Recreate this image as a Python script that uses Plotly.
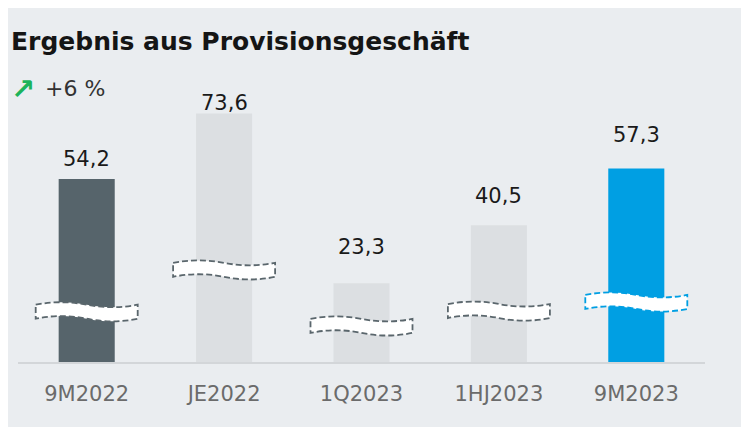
import plotly.graph_objects as go

# ---- data ----
categories = ["9M2022", "JE2022", "1Q2023", "1HJ2023", "9M2023"]
values = [54.2, 73.6, 23.3, 40.5, 57.3]
bar_colors = ["#56646b", "#dcdfe2", "#dcdfe2", "#dcdfe2", "#009fe3"]
title_text = "Ergebnis aus Provisionsgeschäft"
change_text = "+6 %"

# ---- decoration (positions of the axis-break marks, label gaps) ----
break_levels = [14.9, 27.3, 10.7, 15.1, 17.8]
break_line_colors = ["#5a666c", "#5a666c", "#5a666c", "#5a666c", "#009fe3"]
label_gaps = [11, 2, 27, 20, 25]

OX, OY = 8, 8            # page offset of the figure inside the window
W, H = 749 - OX, 427 - OY
ML, MR, MT, MB = 10, 44, 84, 65
PW, PH = W - ML - MR, H - MT - MB


def px(xw):
    return (xw - OX - ML) / PW


def py(yw):
    return (H - MB - (yw - OY)) / PH


FONT = "DejaVu Sans"
BG = "#eaedf0"

fig = go.Figure()
fig.add_trace(go.Bar(
    x=categories, y=values,
    marker=dict(color=bar_colors, line=dict(width=0)),
    hoverinfo="skip",
))

shapes = []
# axis-break marks (pixel-sized wavy bands anchored at each bar)
wave = ("M -51,7 C -34,10.3 -17,10.3 0,7 C 17,3.7 34,3.7 51,7 "
        "L 51,-7 C 34,-10.5 17,-10.5 0,-7 C -17,-3.5 -34,-3.5 -51,-7 Z")
for cat, lvl, lc in zip(categories, break_levels, break_line_colors):
    shapes.append(dict(type="path", xref="x", yref="y",
                       xsizemode="pixel", ysizemode="pixel",
                       xanchor=cat, yanchor=lvl, path=wave,
                       fillcolor="#ffffff",
                       line=dict(color=lc, width=1.8, dash="6px,3px"),
                       layer="above"))

annotations = []
for cat, v, g in zip(categories, values, label_gaps):
    annotations.append(dict(x=cat, y=v, xref="x", yref="y",
                            text=f"{v:.1f}".replace(".", ","),
                            showarrow=False, yanchor="bottom", yshift=g - 5,
                            font=dict(family=FONT, size=21, color="#1a1a1a")))

annotations.append(dict(x=px(9), y=py(41), xref="paper", yref="paper",
                        text=f"<b>{title_text}</b>", showarrow=False,
                        xanchor="left", yanchor="middle",
                        font=dict(family=FONT, size=25, color="#151515")))
annotations.append(dict(x=px(9), y=py(89), xref="paper", yref="paper",
                        text="<b>↗</b>", showarrow=False,
                        xanchor="left", yanchor="middle",
                        font=dict(family=FONT, size=29, color="#1db35a")))
annotations.append(dict(x=px(43), y=py(88), xref="paper", yref="paper",
                        text=change_text, showarrow=False,
                        xanchor="left", yanchor="middle",
                        font=dict(family=FONT, size=22, color="#333333")))

fig.update_layout(
    width=W, height=H,
    margin=dict(l=ML, r=MR, t=MT, b=MB, pad=0),
    paper_bgcolor=BG, plot_bgcolor=BG,
    bargap=0.592, showlegend=False,
    shapes=shapes, annotations=annotations,
    xaxis=dict(showline=True, linecolor="#d3d6d9", linewidth=2,
               showgrid=False, zeroline=False, ticks="",
               ticklabelstandoff=12,
               tickfont=dict(family=FONT, size=21, color="#6b6b6b")),
    yaxis=dict(visible=False, range=[0, 80], showgrid=False, zeroline=False),
)

fig.write_html("out.html")
